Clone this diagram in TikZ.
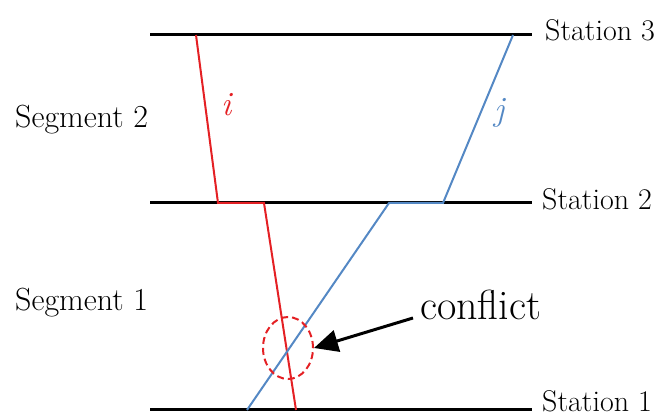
\documentclass[tikz,border=0pt]{standalone}
\usetikzlibrary{arrows.meta,shapes.geometric}
\definecolor{tred}{RGB}{228,32,36}
\definecolor{tblue}{RGB}{84,136,196}
\begin{document}
\begin{tikzpicture}[x=1pt,y=-1pt,
  station/.style={line width=3pt,black},
  redline/.style={line width=2pt,tred},
  blueline/.style={line width=2pt,tblue},
  lbl/.style={anchor=base west,inner sep=0pt,font=\fontsize{30}{34}\selectfont},
  seglbl/.style={anchor=base west,inner sep=0pt,font=\fontsize{32}{36}\selectfont},
  trainlbl/.style={anchor=base west,inner sep=0pt,font=\fontsize{34}{38}\selectfont\itshape}]
\useasboundingbox (0,0) rectangle (667,419);
% station lines
\coordinate (s3a) at (150,35);  \coordinate (s3b) at (532,35);
\coordinate (s2a) at (150,203); \coordinate (s2b) at (532,203);
\coordinate (s1a) at (150,410); \coordinate (s1b) at (532,410);
\draw[station] (s3a) -- (s3b);
\draw[station] (s2a) -- (s2b);
\draw[station] (s1a) -- (s1b);
\node[lbl] (st3) at (545,41) {Station 3};
\node[lbl] (st2) at (542,210) {Station 2};
\node[lbl] (st1) at (542,412) {Station 1};
\node[seglbl] (seg2) at (15,128) {Segment 2};
\node[seglbl] (seg1) at (15,311) {Segment 1};
% train i
\coordinate (i1) at (196,35);
\coordinate (i2) at (218,203);
\coordinate (i3) at (264,203);
\coordinate (i4) at (296,410);
\draw[redline] (i1) -- (i2) -- (i3) -- (i4);
\node[trainlbl,text=tred] (il) at (221,116) {i};
% train j
\coordinate (j1) at (513,35);
\coordinate (j2) at (443,203);
\coordinate (j3) at (389,203);
\coordinate (j4) at (247,410);
\draw[blueline] (j1) -- (j2) -- (j3) -- (j4);
\node[trainlbl,text=tblue] (jl) at (494,121) {j};
% conflict
\node[draw=tred,dash pattern=on 7pt off 4pt,line width=2pt,ellipse,minimum width=50pt,minimum height=62pt,inner sep=0pt] (cf) at (288,348) {};
\node[anchor=base west,inner sep=0pt,font=\fontsize{42}{48}\selectfont] (ct) at (420,320) {conflict};
\coordinate (ca) at (413,318);
\draw[line width=3pt,-{Triangle[length=24pt,width=22pt]}] (ca) -- (cf.east);
\end{tikzpicture}
\end{document}
